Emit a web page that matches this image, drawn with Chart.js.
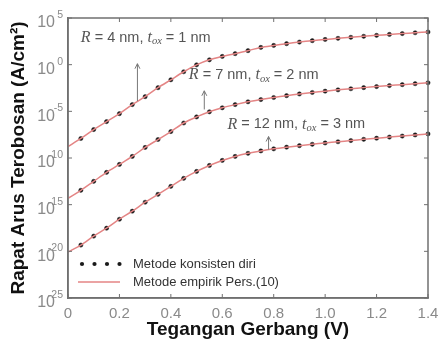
<!DOCTYPE html>
<html>
<head>
<meta charset="utf-8">
<script src="https://cdn.jsdelivr.net/npm/chart.js@4.4.1/dist/chart.umd.min.js"></script>
<style>
body { margin: 0; background: #fff; }
canvas { display: block; }
</style>
</head>
<body>
<canvas id="tunnelChart" width="438" height="347"></canvas>
<script>
// gate voltage (V)
var gateVoltage = [0, 0.05, 0.1, 0.15, 0.2, 0.25, 0.3, 0.35, 0.4, 0.45, 0.5, 0.55, 0.6, 0.65, 0.7,
                   0.75, 0.8, 0.85, 0.9, 0.95, 1.0, 1.05, 1.1, 1.15, 1.2, 1.25, 1.3, 1.35, 1.4];

// log10 of tunnelling current density (A/cm^2)
var logJ_R4 = [-8.77, -7.91, -6.95, -6.10, -5.25, -4.28, -3.43, -2.47, -1.62, -0.76, -0.02, 0.52, 0.88, 1.18, 1.5,
               1.85, 2.06, 2.25, 2.42, 2.57, 2.7, 2.82, 2.93, 3.04, 3.14, 3.24, 3.33, 3.42, 3.5];
var logJ_R7 = [-14.32, -13.46, -12.5, -11.54, -10.69, -9.83, -8.87, -8.02, -7.17, -6.25, -5.6, -5.05, -4.62, -4.28, -3.98,
               -3.74, -3.52, -3.32, -3.14, -2.98, -2.84, -2.7, -2.58, -2.46, -2.35, -2.24, -2.14, -2.04, -1.94];
var logJ_R12 = [-20.08, -19.33, -18.37, -17.52, -16.56, -15.7, -14.74, -13.89, -13.04, -12.18, -11.44, -10.8, -10.26, -9.83, -9.5,
                -9.24, -9.02, -8.84, -8.68, -8.53, -8.39, -8.26, -8.13, -8.0, -7.88, -7.76, -7.65, -7.53, -7.42];

var yTickExps = [5, 0, -5, -10, -15, -20, -25];
var xTickVals = [0, 0.2, 0.4, 0.6, 0.8, 1.0, 1.2, 1.4];

var curveLabels = [
    { r: "4", tox: "1", x: 0.05, exp: 2.9, arrowX: 0.27, arrowFrom: -3.9, arrowTo: 0.1 },
    { r: "7", tox: "2", x: 0.47, exp: -1.1, arrowX: 0.53, arrowFrom: -4.8, arrowTo: -2.8 },
    { r: "12", tox: "3", x: 0.62, exp: -6.4, arrowX: 0.78, arrowFrom: -9.1, arrowTo: -7.7 }
];

var lineColor = "#e48585";
var dotColor = "#1a1a1a";
var frameColor = "#707070";
var sans = "'Liberation Sans', Arial, sans-serif";

function toPoints(logs, skipFirst)
{
    var pts = [];
    for (var i = skipFirst ? 1 : 0; i < gateVoltage.length; i++) {
        pts.push({ x: gateVoltage[i], y: Math.pow(10, logs[i]) });
    }
    return pts;
}

function lineSet(logs)
{
    return { data: toPoints(logs, false), showLine: true, borderColor: lineColor, borderWidth: 1.5,
             pointRadius: 0, tension: 0.3, fill: false };
}

function dotSet(logs)
{
    return { data: toPoints(logs, true), showLine: false, pointRadius: 2.1,
             pointBackgroundColor: dotColor, pointBorderColor: dotColor, pointBorderWidth: 0.5, clip: false };
}

function drawMixed(ctx, x, y, parts)
{
    for (var i = 0; i < parts.length; i++) {
        ctx.font = parts[i][1];
        ctx.fillText(parts[i][0], x, y + (parts[i][2] || 0));
        x += ctx.measureText(parts[i][0]).width;
    }
}

var framePlugin = {
    id: "plotFrame",
    afterDraw: function(chart) {
        var ctx = chart.ctx;
        var xs = chart.scales.x, ys = chart.scales.y;
        var fl = xs.getPixelForValue(0), fr = xs.getPixelForValue(1.4);
        var ft = ys.getPixelForValue(1e5), fb = ys.getPixelForValue(1e-25);
        ctx.save();

        // y tick labels 10^n
        ctx.fillStyle = "#8a8a8a";
        ctx.textBaseline = "middle";
        yTickExps.forEach(function(e) {
            var py = ys.getPixelForValue(Math.pow(10, e));
            ctx.textAlign = "right";
            ctx.font = "16px " + sans;
            ctx.fillText("10", 55, py + 5);
            ctx.font = "10.5px " + sans;
            ctx.fillText(String(e), 63, py - 3);
        });

        // curve annotations with arrows
        ctx.textAlign = "left";
        ctx.fillStyle = "#555";
        ctx.strokeStyle = "#777";
        ctx.lineWidth = 1;
        curveLabels.forEach(function(c) {
            var tx = xs.getPixelForValue(c.x);
            var ty = ys.getPixelForValue(Math.pow(10, c.exp));
            drawMixed(ctx, tx, ty, [
                ["R", "italic 16px 'Liberation Serif', serif"],
                [" = " + c.r + " nm, ", "14.5px " + sans],
                ["t", "italic 16px 'Liberation Serif', serif"],
                ["ox", "italic 10.5px 'Liberation Serif', serif", 4],
                [" = " + c.tox + " nm", "14.5px " + sans]
            ]);
            var ax = xs.getPixelForValue(c.arrowX);
            var y1 = ys.getPixelForValue(Math.pow(10, c.arrowFrom));
            var y2 = ys.getPixelForValue(Math.pow(10, c.arrowTo));
            ctx.beginPath();
            ctx.moveTo(ax, y1); ctx.lineTo(ax, y2);
            ctx.moveTo(ax - 2.5, y2 + 5); ctx.lineTo(ax, y2); ctx.lineTo(ax + 2.5, y2 + 5);
            ctx.stroke();
        });

        // legend
        ctx.fillStyle = dotColor;
        [82, 94.5, 107, 119.5].forEach(function(dx) {
            ctx.beginPath(); ctx.arc(dx, 264, 2.1, 0, Math.PI * 2); ctx.fill();
        });
        ctx.strokeStyle = lineColor;
        ctx.lineWidth = 1.5;
        ctx.beginPath(); ctx.moveTo(78, 282); ctx.lineTo(120, 282); ctx.stroke();
        ctx.fillStyle = "#333";
        ctx.font = "13px " + sans;
        ctx.fillText("Metode konsisten diri", 133, 264);
        ctx.fillText("Metode empirik Pers.(10)", 133, 282);

        // box and inner ticks, drawn last
        ctx.strokeStyle = frameColor;
        ctx.lineWidth = 1.5;
        ctx.beginPath();
        ctx.moveTo(fl, ft); ctx.lineTo(fr, ft); ctx.lineTo(fr, fb); ctx.lineTo(fl, fb); ctx.closePath();
        ctx.stroke();
        ctx.lineWidth = 1;
        ctx.beginPath();
        xTickVals.forEach(function(v) {
            var px = xs.getPixelForValue(v);
            ctx.moveTo(px, fb); ctx.lineTo(px, fb - 4);
            ctx.moveTo(px, ft); ctx.lineTo(px, ft + 4);
        });
        yTickExps.forEach(function(e) {
            var py = ys.getPixelForValue(Math.pow(10, e));
            ctx.moveTo(fl, py); ctx.lineTo(fl + 4, py);
            ctx.moveTo(fr, py); ctx.lineTo(fr - 4, py);
        });
        ctx.stroke();

        ctx.restore();
    }
};

var chart = new Chart(document.getElementById("tunnelChart"), {
    type: "scatter",
    data: {
        datasets: [
            lineSet(logJ_R4), lineSet(logJ_R7), lineSet(logJ_R12),
            dotSet(logJ_R4), dotSet(logJ_R7), dotSet(logJ_R12)
        ]
    },
    options: {
        responsive: false,
        animation: false,
        layout: { padding: { top: 18, right: 10, left: 0, bottom: 0 } },
        plugins: { legend: { display: false }, tooltip: { enabled: false } },
        scales: {
            x: {
                type: "linear", min: 0, max: 1.4,
                grid: { display: false, drawTicks: false },
                border: { display: true, color: frameColor, width: 1.5 },
                afterBuildTicks: function(s) { s.ticks = xTickVals.map(function(v) { return { value: v }; }); },
                afterFit: function(s) { s.height = 49; s.paddingLeft = 0; s.paddingRight = 0; },
                ticks: { padding: 7, color: "#8a8a8a", maxRotation: 0,
                         font: { family: sans, size: 15 } },
                title: { display: true, text: "Tegangan Gerbang (V)", color: "#111",
                         padding: { top: 0, bottom: 6 },
                         font: { family: sans, size: 19, weight: "bold" } }
            },
            y: {
                type: "logarithmic", min: 1e-25, max: 1e5,
                grid: { display: false },
                border: { display: true, color: frameColor, width: 1.5 },
                ticks: { display: false },
                afterFit: function(s) { s.width = 68; },
                title: { display: true, text: "Rapat Arus Terobosan (A/cm\u00b2)", color: "#111",
                         padding: { top: 7, bottom: 0 },
                         font: { family: sans, size: 19, weight: "bold" } }
            }
        }
    },
    plugins: [framePlugin]
});
</script>
</body>
</html>
